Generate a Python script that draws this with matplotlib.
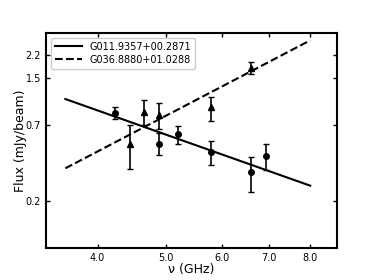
import numpy as np
import matplotlib.pyplot as plt
from matplotlib.ticker import FixedLocator, FormatStrFormatter, NullLocator

# G011.9357+00.2871 (cirklar, heldragen anpassning)
nu_a = [4.23, 4.89, 5.19, 5.78, 6.60, 6.92]
flux_a = [0.853, 0.513, 0.60, 0.449, 0.32, 0.421]
err_a_lo = [0.083, 0.090, 0.093, 0.086, 0.090, 0.089]
err_a_hi = [0.087, 0.101, 0.089, 0.089, 0.089, 0.088]

# G036.8880+01.0288 (trianglar, streckad anpassning)
nu_b = [4.44, 4.66, 4.89, 5.78, 6.60]
flux_b = [0.513, 0.867, 0.816, 0.931, 1.77]
err_b_lo = [0.175, 0.164, 0.167, 0.180, 0.16]
err_b_hi = [0.184, 0.193, 0.194, 0.179, 0.21]

# anpassade linjer (ändpunkter)
fit_nu = [3.6, 8.0]
fit_a = [1.07, 0.257]
fit_b = [0.342, 2.81]

xticks = [4.0, 5.0, 6.0, 7.0, 8.0]
yticks = [0.2, 0.7, 1.5, 2.2]

fig = plt.figure(figsize=(3.74, 2.8), dpi=100)
ax = fig.add_axes([0.123, 0.114, 0.778, 0.768])

ax.plot(fit_nu, fit_a, color='black', linewidth=1.5, label='G011.9357+00.2871')
ax.plot(fit_nu, fit_b, color='black', linewidth=1.5, linestyle='--', label='G036.8880+01.0288')

ax.errorbar(nu_a, flux_a, yerr=[err_a_lo, err_a_hi], fmt='o', color='black',
            markersize=4, capsize=2, elinewidth=1.2, capthick=1)
ax.errorbar(nu_b, flux_b, yerr=[err_b_lo, err_b_hi], fmt='^', color='black',
            markersize=4, capsize=2, elinewidth=1.2, capthick=1)

ax.set_xscale('log')
ax.set_yscale('log')
ax.set_xlim(3.38, 8.73)
ax.set_ylim(0.092, 3.17)

ax.xaxis.set_major_locator(FixedLocator(xticks))
ax.yaxis.set_major_locator(FixedLocator(yticks))
ax.xaxis.set_minor_locator(NullLocator())
ax.yaxis.set_minor_locator(NullLocator())
ax.xaxis.set_major_formatter(FormatStrFormatter('%.1f'))
ax.yaxis.set_major_formatter(FormatStrFormatter('%.1f'))
ax.tick_params(direction='in', top=True, right=True, labelsize=7, length=3, width=1)
for s in ax.spines.values():
    s.set_linewidth(1.5)

ax.set_xlabel('ν (GHz)', fontsize=9, labelpad=0)
ax.set_ylabel('Flux (mJy/beam)', fontsize=9, labelpad=-1)
ax.legend(loc='upper left', fontsize=7, handlelength=2.8, borderpad=0.4,
          labelspacing=0.3, framealpha=1)

plt.savefig('out.png', dpi=100)
